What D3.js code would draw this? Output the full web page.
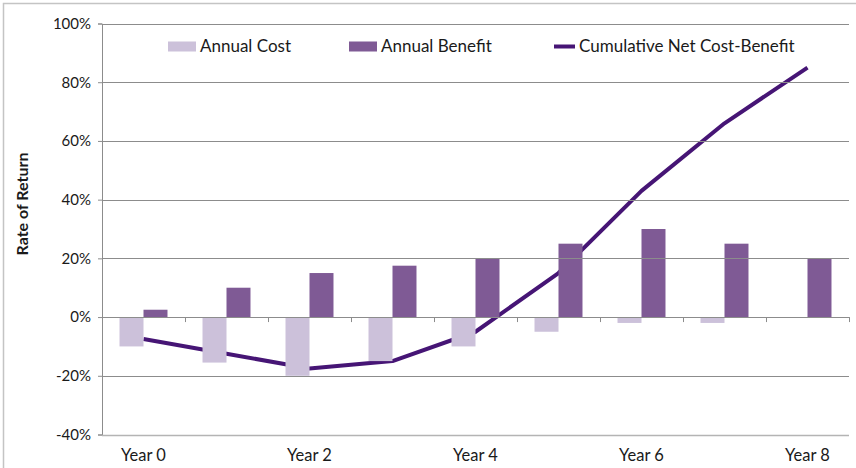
<!DOCTYPE html>
<html>
<head>
<meta charset="utf-8">
<script src="https://cdn.jsdelivr.net/npm/d3@7"></script>
<style>
  body { margin: 0; background: #fff; }
  text { font-family: Lato, "Open Sans", sans-serif; fill: #1a1a1a; }
</style>
</head>
<body>
<svg id="chart" width="856" height="468"></svg>
<script>
const years = ['Year 0', 'Year 1', 'Year 2', 'Year 3', 'Year 4', 'Year 5', 'Year 6', 'Year 7', 'Year 8']
const annualCost = [-10, -15.5, -20, -15, -10, -5, -2, -2, 0]
const annualBenefit = [2.5, 10, 15, 17.5, 20, 25, 30, 25, 20]
const cumulativeNet = [-7.5, -12.5, -17.5, -15, -5, 15, 43, 66, 85]
const yTicks = [-40, -20, 0, 20, 40, 60, 80, 100]

const costColor = '#ccc1da'
const benefitColor = '#7f5a95'
const lineColor = '#461575'
const gridColor = '#8c8c8c'

const svg = d3.select('#chart')
const margin = { top: 23.5, right: 7, bottom: 33.5, left: 102 }
const width = +svg.attr('width')
const height = +svg.attr('height')

// outer chart border (top and left edges)
svg.append('path')
  .attr('d', `M3.5,${height}V3.5H${width}`)
  .attr('fill', 'none')
  .attr('stroke', '#c4c4c4')
  .attr('stroke-width', 1.5)

const x = d3.scaleBand()
  .domain(years)
  .range([margin.left, width - margin.right])
  .padding(0)

const xInner = d3.scaleBand()
  .domain(['cost', 'benefit'])
  .range([0, x.bandwidth()])
  .paddingOuter(0.73)
  .paddingInner(0)

const y = d3.scaleLinear()
  .domain([-40, 100])
  .range([height - margin.bottom, margin.top])

const rows = years.map((yr, i) => ({
  year: yr, cost: annualCost[i], benefit: annualBenefit[i], net: cumulativeNet[i]
}))

// Cumulative line (drawn behind bars)
const line = d3.line()
  .x(d => x(d.year) + x.bandwidth() / 2)
  .y(d => y(d.net))

svg.append('path')
  .datum(rows)
  .attr('fill', 'none')
  .attr('stroke', lineColor)
  .attr('stroke-width', 4)
  .attr('stroke-linejoin', 'round')
  .attr('d', line)

// Bars
const groups = svg.append('g')
  .selectAll('g')
  .data(rows)
  .join('g')
  .attr('transform', d => `translate(${x(d.year)},0)`)

groups.append('rect')
  .attr('x', xInner('cost'))
  .attr('width', xInner.bandwidth())
  .attr('y', d => y(Math.max(0, d.cost)))
  .attr('height', d => Math.abs(y(d.cost) - y(0)))
  .attr('fill', costColor)

groups.append('rect')
  .attr('x', xInner('benefit'))
  .attr('width', xInner.bandwidth())
  .attr('y', d => y(Math.max(0, d.benefit)))
  .attr('height', d => Math.abs(y(d.benefit) - y(0)))
  .attr('fill', benefitColor)

// Y axis with gridlines
const yAxis = svg.append('g')
  .attr('transform', `translate(${margin.left},0)`)
  .call(d3.axisLeft(y)
    .tickValues(yTicks)
    .tickSize(4)
    .tickFormat(d => d + '%'))
yAxis.select('.domain').attr('stroke', gridColor)
yAxis.selectAll('.tick line').attr('stroke', gridColor)
yAxis.selectAll('.tick text')
  .attr('x', -11)
  .style('font-size', '15px')
  .style('font-family', 'Lato, sans-serif')
  .attr('fill', '#1a1a1a')

svg.append('g')
  .selectAll('line')
  .data(yTicks)
  .join('line')
  .attr('x1', margin.left)
  .attr('x2', width - margin.right)
  .attr('y1', d => Math.round(y(d)) + 0.5)
  .attr('y2', d => Math.round(y(d)) + 0.5)
  .attr('stroke', d => d === -40 ? '#b4b4b4' : gridColor)
  .attr('stroke-width', d => d === -40 ? 1.5 : 1)

// X axis at zero, ticks at band boundaries
svg.append('g')
  .selectAll('line')
  .data(years.concat(['end']))
  .join('line')
  .attr('x1', (d, i) => Math.round(x.range()[0] + i * x.step()) + 0.5)
  .attr('x2', (d, i) => Math.round(x.range()[0] + i * x.step()) + 0.5)
  .attr('y1', y(0))
  .attr('y2', y(0) + 5)
  .attr('stroke', gridColor)

svg.append('g')
  .selectAll('text')
  .data(years.filter((d, i) => i % 2 === 0))
  .join('text')
  .attr('x', d => x(d) + x.bandwidth() / 2)
  .attr('y', 461)
  .attr('text-anchor', 'middle')
  .style('font-size', '16.5px')
  .text(d => d)

// Axis title
svg.append('text')
  .attr('transform', `translate(28,${204}) rotate(-90)`)
  .attr('text-anchor', 'middle')
  .style('font-size', '16px')
  .style('font-weight', 'bold')
  .attr('fill', '#000')
  .text('Rate of Return')

// Legend
const legendItems = [
  { label: 'Annual Cost', color: costColor, type: 'rect', x: 168 },
  { label: 'Annual Benefit', color: benefitColor, type: 'rect', x: 349 },
  { label: 'Cumulative Net Cost-Benefit', color: lineColor, type: 'line', x: 554 }
]

legendItems.forEach(item => {
  const g = svg.append('g').attr('transform', `translate(${item.x},46.5)`)
  if (item.type === 'rect') {
    g.append('rect')
      .attr('x', 0).attr('y', -5)
      .attr('width', 28).attr('height', 10)
      .attr('fill', item.color)
  } else {
    g.append('line')
      .attr('x1', 0).attr('x2', 21)
      .attr('stroke', item.color)
      .attr('stroke-width', 4)
  }
  g.append('text')
    .attr('x', item.type === 'rect' ? 32 : 25)
    .attr('dy', '0.35em')
    .style('font-size', '17px')
    .text(item.label)
})
</script>
</body>
</html>
